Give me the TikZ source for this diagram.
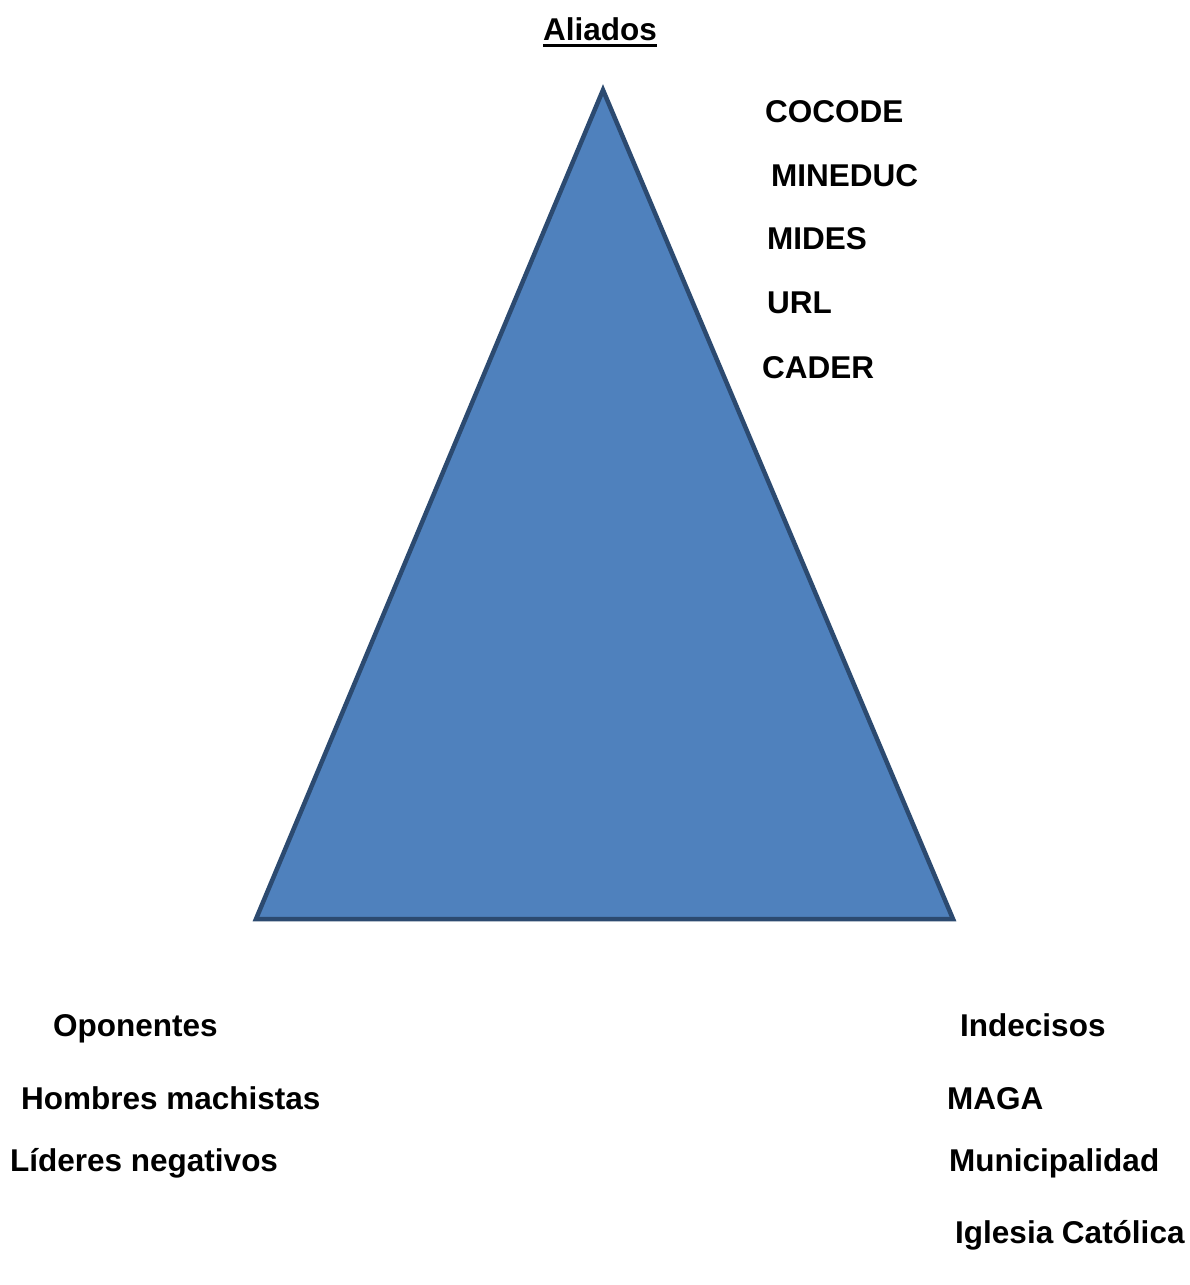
\documentclass[tikz,border=0pt]{standalone}
\usepackage{fontspec}
\setmainfont{Liberation Sans}
\definecolor{trifill}{HTML}{4F81BD}
\definecolor{tridraw}{HTML}{2C4A70}
\begin{document}
\begin{tikzpicture}[x=1pt,y=-1pt,
  lbl/.style={anchor=base west,inner sep=0pt,font=\fontsize{31.5}{36}\selectfont\bfseries}]
\useasboundingbox (0,0) rectangle (1190,1285);
\fill[white] (0,0) rectangle (1190,1285);
\coordinate (apex) at (603,90);
\coordinate (bl) at (256,919);
\coordinate (br) at (953,919);
\draw[fill=trifill,draw=tridraw,line width=4.5pt,line join=miter] (apex) -- (br) -- (bl) -- cycle;
\node[lbl] (aliados) at (543,40) {Aliados};
\draw[line width=3pt] ([yshift=-5.5pt]aliados.base west) -- ([yshift=-5.5pt]aliados.base east);
\node[lbl] (cocode) at (765,122) {COCODE};
\node[lbl] (mineduc) at (771,186) {MINEDUC};
\node[lbl] (mides) at (767,249) {MIDES};
\node[lbl] (url) at (767,313) {URL};
\node[lbl] (cader) at (762,378) {CADER};
\node[lbl] (oponentes) at (53,1036) {Oponentes};
\node[lbl] (hombres) at (21,1109) {Hombres machistas};
\node[lbl] (lideres) at (10,1171) {Líderes negativos};
\node[lbl] (indecisos) at (960,1036) {Indecisos};
\node[lbl] (maga) at (947,1109) {MAGA};
\node[lbl] (muni) at (949,1171) {Municipalidad};
\node[lbl] (iglesia) at (955,1243) {Iglesia Católica};
\end{tikzpicture}
\end{document}
